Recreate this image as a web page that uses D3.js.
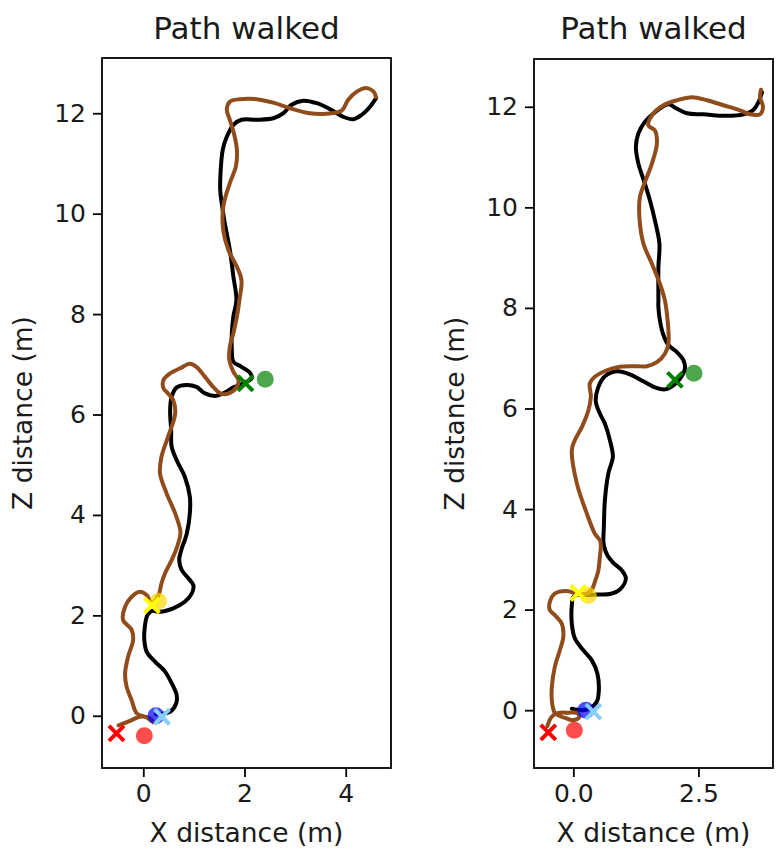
<!DOCTYPE html>
<meta charset="utf-8">
<head>
    <script type="text/javascript" src="https://cdn.jsdelivr.net/npm/d3@7"></script>
    <style>
        body { margin: 0; background: #fff; }
        svg { font-family: "DejaVu Sans", sans-serif; }
    </style>
</head>
<body>
<div id="chart"></div>
<script>
    var w = 779;
    var h = 855;

    // paths, [x, z] in metres
    var leftTruePath = [[0.25,0.03],[0.53,0.08],[0.65,0.25],[0.66,0.41],[0.56,0.65],[0.43,0.88],[0.23,1.08],[0.07,1.27],[0.02,1.51],[0.03,1.77],[0.08,2.0],[0.17,2.09],[0.33,2.07],[0.59,2.14],[0.82,2.27],[0.96,2.44],[0.99,2.60],[0.89,2.74],[0.76,2.90],[0.71,3.10],[0.76,3.33],[0.82,3.50],[0.86,3.63],[0.92,4.03],[0.92,4.36],[0.82,4.76],[0.66,5.09],[0.56,5.36],[0.55,5.69],[0.53,6.09],[0.56,6.35],[0.66,6.54],[0.86,6.59],[1.05,6.55],[1.22,6.42],[1.42,6.37],[1.58,6.42],[1.78,6.54],[1.98,6.62],[2.14,6.72],[2.11,6.83],[1.94,6.95],[1.78,7.05],[1.75,7.28],[1.75,7.62],[1.78,7.95],[1.84,8.28],[1.78,8.75],[1.71,9.28],[1.61,9.81],[1.55,10.21],[1.52,10.47],[1.53,10.87],[1.57,11.27],[1.65,11.53],[1.78,11.77],[1.94,11.87],[2.24,11.87],[2.57,11.90],[2.77,12.0],[2.93,12.17],[3.16,12.25],[3.43,12.20],[3.69,12.08],[3.95,11.93],[4.15,11.88],[4.32,11.97],[4.48,12.13],[4.60,12.30]];

    var leftEstPath = [[-0.49,-0.19],[-0.26,-0.10],[-0.07,-0.02],[0.13,-0.05],[0.20,-0.13],[0.08,-0.04],[-0.13,0.05],[-0.23,0.31],[-0.33,0.58],[-0.36,0.84],[-0.30,1.18],[-0.20,1.51],[-0.23,1.71],[-0.40,1.91],[-0.36,2.17],[-0.23,2.37],[-0.07,2.47],[0.07,2.40],[0.17,2.24],[0.30,2.40],[0.36,2.64],[0.43,2.84],[0.56,3.10],[0.67,3.37],[0.73,3.60],[0.73,3.70],[0.63,4.03],[0.46,4.43],[0.33,4.83],[0.36,5.16],[0.49,5.56],[0.63,6.02],[0.59,6.29],[0.49,6.42],[0.40,6.52],[0.40,6.69],[0.53,6.82],[0.73,6.92],[0.92,7.01],[1.05,6.95],[1.22,6.75],[1.38,6.55],[1.55,6.41],[1.71,6.43],[1.85,6.55],[1.88,6.69],[1.78,6.85],[1.70,7.09],[1.71,7.35],[1.78,7.62],[1.85,7.95],[1.90,8.28],[1.94,8.68],[1.85,8.94],[1.68,9.28],[1.58,9.67],[1.58,10.14],[1.71,10.61],[1.83,10.94],[1.85,11.27],[1.79,11.60],[1.71,11.87],[1.65,12.07],[1.71,12.23],[1.91,12.28],[2.24,12.28],[2.57,12.21],[2.90,12.10],[3.29,12.0],[3.62,11.99],[3.92,12.05],[4.05,12.27],[4.22,12.43],[4.41,12.50],[4.55,12.43],[4.60,12.32]];

    var rightTruePath = [[-0.03,0.03],[0.19,0.0],[0.33,0.04],[0.47,0.17],[0.51,0.40],[0.48,0.73],[0.37,0.99],[0.20,1.19],[0.03,1.43],[-0.03,1.72],[-0.03,2.09],[0.0,2.25],[0.12,2.30],[0.30,2.29],[0.47,2.30],[0.73,2.31],[0.93,2.40],[1.05,2.62],[0.97,2.78],[0.80,2.93],[0.68,3.08],[0.61,3.28],[0.60,3.38],[0.61,3.64],[0.63,4.17],[0.70,4.71],[0.79,5.04],[0.73,5.37],[0.63,5.70],[0.53,5.90],[0.45,6.13],[0.49,6.40],[0.63,6.64],[0.87,6.74],[1.13,6.68],[1.40,6.54],[1.63,6.42],[1.83,6.38],[2.0,6.46],[2.13,6.59],[2.23,6.79],[2.20,6.96],[2.07,7.12],[1.90,7.26],[1.80,7.46],[1.73,7.75],[1.70,8.02],[1.70,8.15],[1.70,8.81],[1.72,9.28],[1.63,9.74],[1.53,10.14],[1.43,10.47],[1.30,10.87],[1.25,11.20],[1.30,11.47],[1.43,11.70],[1.63,11.89],[1.90,12.05],[2.07,11.96],[2.27,11.87],[2.60,11.85],[3.07,11.82],[3.40,11.85],[3.60,11.94],[3.70,12.09],[3.77,12.29]];

    var rightEstPath = [[-0.52,-0.32],[-0.44,-0.14],[-0.32,-0.06],[-0.10,-0.05],[0.08,-0.06],[0.12,-0.14],[0.0,-0.20],[-0.18,-0.15],[-0.36,-0.07],[-0.40,0.02],[-0.43,0.20],[-0.43,0.46],[-0.37,0.86],[-0.27,1.19],[-0.20,1.46],[-0.23,1.72],[-0.37,1.89],[-0.47,1.99],[-0.47,2.15],[-0.37,2.32],[-0.13,2.37],[0.07,2.32],[0.27,2.32],[0.37,2.40],[0.43,2.55],[0.50,2.78],[0.53,3.05],[0.55,3.28],[0.53,3.38],[0.43,3.51],[0.27,3.91],[0.07,4.51],[-0.03,5.17],[0.03,5.37],[0.17,5.63],[0.30,5.96],[0.35,6.23],[0.33,6.50],[0.43,6.63],[0.67,6.76],[0.93,6.83],[1.27,6.84],[1.47,6.84],[1.67,6.92],[1.83,7.09],[1.90,7.29],[1.90,7.55],[1.87,7.88],[1.83,8.15],[1.73,8.48],[1.57,8.88],[1.40,9.28],[1.32,9.81],[1.33,10.20],[1.43,10.50],[1.57,10.87],[1.67,11.27],[1.63,11.53],[1.50,11.63],[1.57,11.83],[1.80,12.03],[2.07,12.13],[2.37,12.19],[2.67,12.13],[3.0,12.03],[3.33,11.93],[3.53,11.85],[3.73,11.85],[3.79,12.0],[3.73,12.19],[3.75,12.34]];

    // waypoints: true positions (circles) and estimates (crosses)
    var waypointNames = ["start", "wp1", "wp2", "wp3"];
    var trueWaypoints = [[0.02,-0.40],[0.25,0.0],[0.30,2.28],[2.41,6.70]];
    var leftEstWaypoints = [[-0.53,-0.35],[0.37,-0.02],[0.17,2.20],[2.02,6.62]];
    var rightEstWaypoints = [[-0.50,-0.44],[0.40,-0.03],[0.10,2.33],[2.03,6.57]];

    var xTicksLeft = [0, 2, 4];
    var xTicksRight = [0, 2.5];
    var zTicks = [0, 2, 4, 6, 8, 10, 12];

    var circleColor = {start: "red", wp1: "blue", wp2: "gold", wp3: "green"};
    var crossColor = {start: "red", wp1: "lightskyblue", wp2: "yellow", wp3: "green"};

    var svg = d3.select("#chart").append("svg")
        .attr("width", w).attr("height", h);

    var panels = [
        {box: [102, 391, 58, 768], xDom: [-0.816, 4.895], zDom: [-1.04, 13.10],
         truePath: leftTruePath, estPath: leftEstPath, est: leftEstWaypoints,
         xTicks: xTicksLeft, xFmt: d3.format("d")},
        {box: [534, 773, 59, 768], xDom: [-0.786, 3.99], zDom: [-1.15, 12.95],
         truePath: rightTruePath, estPath: rightEstPath, est: rightEstWaypoints,
         xTicks: xTicksRight, xFmt: d3.format(".1f")}
    ];

    panels.forEach(function (p) {
        var x = d3.scaleLinear().domain(p.xDom).range([p.box[0], p.box[1]]);
        var z = d3.scaleLinear().domain(p.zDom).range([p.box[3], p.box[2]]);
        var g = svg.append("g");

        g.append("defs").append("clipPath").attr("id", "clip" + p.box[0])
            .append("rect")
            .attr("x", p.box[0]).attr("y", p.box[2])
            .attr("width", p.box[1] - p.box[0]).attr("height", p.box[3] - p.box[2]);

        var plot = g.append("g").attr("clip-path", "url(#clip" + p.box[0] + ")");

        var line = d3.line()
            .x(d => x(d[0]))
            .y(d => z(d[1]))
            .curve(d3.curveCatmullRom.alpha(0.5));

        plot.append("path").attr("d", line(p.truePath))
            .attr("fill", "none").attr("stroke", "black")
            .attr("stroke-width", 4).attr("stroke-linejoin", "round").attr("stroke-linecap", "round");
        plot.append("path").attr("d", line(p.estPath))
            .attr("fill", "none").attr("stroke", "#914c1c")
            .attr("stroke-width", 4).attr("stroke-linejoin", "round").attr("stroke-linecap", "round");

        plot.selectAll("circle.wp").data(trueWaypoints).enter().append("circle")
            .attr("class", "wp")
            .attr("cx", d => x(d[0])).attr("cy", d => z(d[1]))
            .attr("r", 8.5)
            .attr("fill", (d, i) => circleColor[waypointNames[i]])
            .attr("fill-opacity", 0.7);

        var s = 7.5;
        plot.selectAll("path.est").data(p.est).enter().append("path")
            .attr("class", "est")
            .attr("transform", d => "translate(" + x(d[0]) + "," + z(d[1]) + ")")
            .attr("d", "M" + (-s) + "," + (-s) + "L" + s + "," + s + "M" + (-s) + "," + s + "L" + s + "," + (-s))
            .attr("stroke", (d, i) => crossColor[waypointNames[i]])
            .attr("stroke-width", 4)
            .attr("fill", "none");

        // axes
        var xAxis = d3.axisBottom(x).tickValues(p.xTicks).tickFormat(p.xFmt)
            .tickSize(9).tickPadding(7);
        var zAxis = d3.axisLeft(z).tickValues(zTicks).tickFormat(d3.format("d"))
            .tickSize(9).tickPadding(7);

        var gx = g.append("g").attr("transform", "translate(0," + p.box[3] + ")").call(xAxis);
        var gz = g.append("g").attr("transform", "translate(" + p.box[0] + ",0)").call(zAxis);
        [gx, gz].forEach(function (a) {
            a.select(".domain").remove();
            a.selectAll(".tick line").attr("stroke", "black").attr("stroke-width", 1.8);
            a.selectAll(".tick text").attr("fill", "#1a1a1a").style("font-size", "25px")
                .style("font-family", "DejaVu Sans");
        });

        g.append("rect")
            .attr("x", p.box[0]).attr("y", p.box[2])
            .attr("width", p.box[1] - p.box[0]).attr("height", p.box[3] - p.box[2])
            .attr("fill", "none").attr("stroke", "black").attr("stroke-width", 1.8);

        var cx = (p.box[0] + p.box[1]) / 2;
        g.append("text").attr("x", cx).attr("y", 39)
            .attr("text-anchor", "middle").style("font-size", "31px").attr("fill", "#1a1a1a")
            .text("Path walked");
        g.append("text").attr("x", cx).attr("y", 842)
            .attr("text-anchor", "middle").style("font-size", "26.5px").attr("fill", "#1a1a1a")
            .text("X distance (m)");
        g.append("text")
            .attr("transform", "translate(" + (p.box[0] - 70) + "," + ((p.box[2] + p.box[3]) / 2) + ") rotate(-90)")
            .attr("text-anchor", "middle").style("font-size", "26.5px").attr("fill", "#1a1a1a")
            .text("Z distance (m)");
    });
</script>
</body>
</html>
